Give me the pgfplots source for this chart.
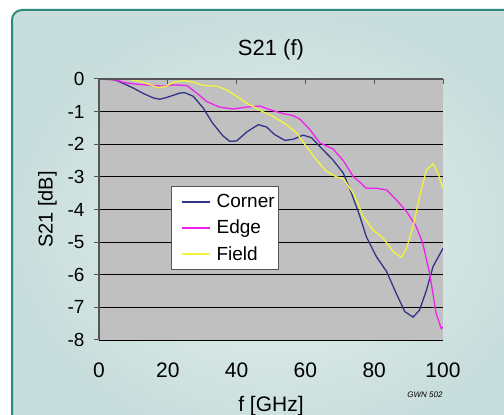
\documentclass[border=0pt]{standalone}
\usepackage{fontspec}
\setmainfont{Liberation Sans}
\usepackage{pgfplots}
\pgfplotsset{compat=1.18}

\definecolor{plotgray}{HTML}{C0C0C0}
\definecolor{panelline}{HTML}{2E8A7E}
\definecolor{panelin}{HTML}{E6F0EF}
\definecolor{panelout}{HTML}{C8DEDC}
\definecolor{cornerc}{HTML}{333388}
\definecolor{edgec}{HTML}{EE22EE}
\definecolor{fieldc}{HTML}{F4F43A}
\definecolor{axisgray}{HTML}{555555}

\begin{document}
\begin{tikzpicture}
\path[use as bounding box] (0pt,0pt) rectangle (504pt,415pt);
\fill[white] (0pt,0pt) rectangle (504pt,415pt);
\shade[inner color=panelin, outer color=panelout, rounded corners=10pt]
  (12pt,-30pt) rectangle (540pt,405pt);
\draw[panelline, line width=2pt, rounded corners=10pt]
  (12pt,-30pt) -- (12pt,405pt) -- (540pt,405pt);

\begin{axis}[
    at={(99pt,75pt)}, anchor=south west,
    scale only axis, width=344pt, height=261pt,
    xmin=0, xmax=100, ymin=-8, ymax=0,
    xtick={0,20,40,60,80,100},
    ytick={-8,-7,...,0},
    axis background/.style={fill=plotgray},
    axis line style={draw=none},
    xtick pos=upper, xticklabel pos=lower,
    ytick pos=left, yticklabel pos=left,
    x tick style={axisgray, line width=1pt},
    y tick style={axisgray, line width=1pt},
    xtick align=inside, ytick align=outside,
    major tick length=5pt,
    ymajorgrids, major grid style={black, line width=0.8pt},
    after end axis/.code={
      \draw[axisgray, line width=1.2pt] (rel axis cs:0,0) -- (rel axis cs:0,1) -- (rel axis cs:1,1);
    },
    /pgf/number format/assume math mode=true,
    x tick label style={font=\fontsize{21}{24}\selectfont, yshift=-19pt},
    y tick label style={font=\fontsize{19}{22}\selectfont, xshift=-6pt},
    title={S21 (f)},
    title style={font=\fontsize{22}{26}\selectfont, yshift=9pt},
    xlabel={f [GHz]},
    xlabel style={font=\fontsize{21}{24}\selectfont, yshift=-12pt},
    ylabel={S21 [dB]},
    ylabel style={font=\fontsize{20}{24}\selectfont, yshift=4pt},
    legend style={at={(0.209,0.59)}, anchor=north west,
      draw=axisgray, line width=0.8pt, fill=white, font=\fontsize{19}{22}\selectfont,
      row sep=7pt, inner xsep=2pt, inner ysep=6pt},
    legend cell align=left,
    legend image code/.code={
      \draw[#1, line width=1.6pt] (0pt,0pt) -- (28pt,0pt);
      \path (-8pt,0pt) (32pt,0pt);},
    every axis plot/.append style={line width=1.3pt},
]
\addplot[color=cornerc] coordinates {
(0,0) (3,0) (5,-0.04) (8,-0.18) (10,-0.28) (13,-0.45) (15.8,-0.58) (17.7,-0.62)
(19.5,-0.57) (21.6,-0.5) (23.5,-0.43) (25,-0.42) (27.4,-0.53) (30.3,-0.89)
(33,-1.35) (36,-1.74) (38,-1.91) (40,-1.9) (43,-1.62) (46.3,-1.4) (48.7,-1.47)
(51,-1.7) (54,-1.88) (56.4,-1.85) (59.3,-1.72) (61.8,-1.8) (64.2,-2.07)
(68,-2.48) (71,-2.88) (73.4,-3.5) (75.8,-4.2) (77.7,-4.83) (80.6,-5.44)
(83.6,-5.9) (86.4,-6.57) (88.9,-7.13) (91.3,-7.3) (93.2,-7.08) (95.2,-6.47)
(97.1,-5.75) (100,-5.19)
};
\addlegendentry{Corner}
\addplot[color=edgec] coordinates {
(0,0) (5,-0.03) (7,-0.1) (10,-0.15) (15.8,-0.2) (19,-0.22) (21.6,-0.18)
(25.5,-0.2) (28.4,-0.43) (31.3,-0.69) (35,-0.86) (39,-0.92) (43,-0.86)
(46.8,-0.83) (49.7,-0.94) (53.5,-1.06) (56.4,-1.12) (58.4,-1.23) (61.3,-1.55)
(64.2,-1.96) (68,-2.14) (71,-2.5) (73.9,-2.99) (75.8,-3.16) (77.7,-3.35)
(80.6,-3.35) (83.6,-3.4) (86.4,-3.7) (89.4,-4.06) (92.2,-4.52) (94.1,-5.03)
(96.1,-5.95) (98,-7.18) (99.5,-7.65) (100,-7.6)
};
\addlegendentry{Edge}
\addplot[color=fieldc] coordinates {
(0,0) (8,0) (11.9,-0.07) (14.8,-0.17) (17.2,-0.27) (19.7,-0.22) (21.6,-0.1)
(24.5,-0.05) (27.4,-0.1) (30.3,-0.2) (34.2,-0.22) (37,-0.33) (40,-0.53)
(42.9,-0.74) (46.8,-0.96) (50.6,-1.15) (54.5,-1.4) (57.4,-1.65) (60.3,-2.07)
(63.2,-2.48) (66.1,-2.83) (69,-3.0) (71,-3.05) (73.9,-3.5) (76.8,-4.21)
(79.6,-4.62) (82.6,-4.88) (85.5,-5.29) (87.9,-5.47) (89.4,-5.19) (91.3,-4.52)
(93.2,-3.6) (95.2,-2.78) (97.1,-2.6) (98.5,-2.88) (100,-3.35)
};
\addlegendentry{Field}
\end{axis}
\node[font=\fontsize{8}{9}\selectfont\itshape, anchor=center] at (425pt,20pt) {GWN 502};
\end{tikzpicture}
\end{document}
